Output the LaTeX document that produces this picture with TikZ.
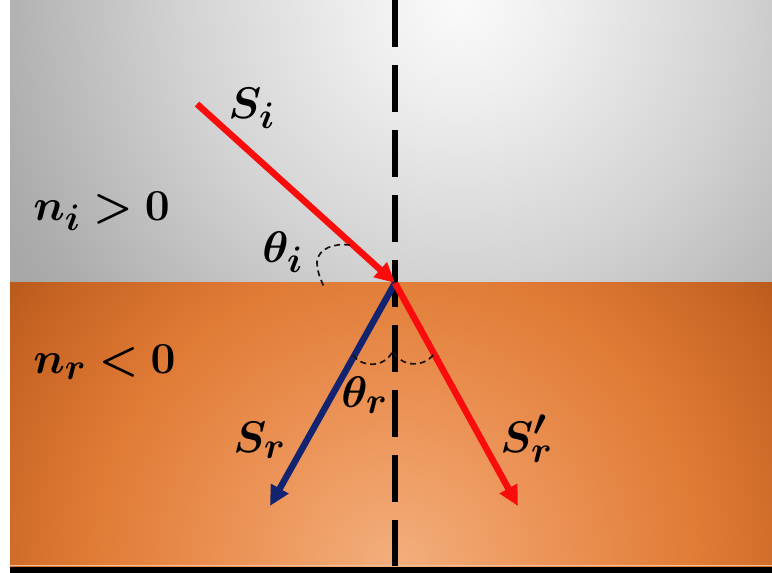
\documentclass[tikz,border=0pt]{standalone}
\usepackage{bm}
\usetikzlibrary{arrows.meta}
\definecolor{g0}{RGB}{250,250,250}
\definecolor{g1}{RGB}{238,238,238}
\definecolor{g2}{RGB}{210,210,210}
\definecolor{g3}{RGB}{172,172,172}
\definecolor{g4}{RGB}{158,158,158}
\definecolor{o0}{RGB}{243,175,125}
\definecolor{o1}{RGB}{236,148,88}
\definecolor{o2}{RGB}{224,124,54}
\definecolor{o3}{RGB}{202,102,36}
\definecolor{o4}{RGB}{172,82,22}
\definecolor{rayred}{RGB}{250,12,12}
\definecolor{rayblue}{RGB}{18,36,112}
\pgfdeclareradialshading{grayrad}{\pgfpoint{0bp}{0bp}}{color(0bp)=(g0); color(4.2bp)=(g1); color(11.7bp)=(g2); color(20bp)=(g3); color(25bp)=(g4); color(50bp)=(g4)}
\pgfdeclareradialshading{orangerad}{\pgfpoint{0bp}{0bp}}{color(0bp)=(o0); color(7.2bp)=(o1); color(14.4bp)=(o2); color(20.2bp)=(o3); color(25bp)=(o4); color(50bp)=(o4)}
\tikzset{
  ray/.style={line width=6.5pt, -{Triangle[length=20pt,width=19pt]}},
  normalline/.style={line width=6pt, dash pattern=on 47pt off 18pt},
  anglearc/.style={line width=1.7pt, dash pattern=on 6pt off 4pt, black!85!brown},
  lbl/.style={anchor=base west, inner sep=0pt, font=\Huge, scale=1.78}
}
\begin{document}
\begin{tikzpicture}[x=1pt,y=-1pt]
\useasboundingbox (0,0) rectangle (772,573);
\fill[white] (0,0) rectangle (772,573);
\begin{scope}
  \clip (10,0) rectangle (772,282);
  \shade[shading=grayrad] (460,0) circle (600pt);
\end{scope}
\begin{scope}
  \clip (10,282) rectangle (772,566);
  \shade[shading=orangerad] (395,567) circle (520pt);
\end{scope}
\fill[black] (10,567) rectangle (772,573);
\draw[line width=1.2pt, o0!80!white] (10,565.5) -- (772,565.5);

% normal
\coordinate (ntop) at (395,0);
\coordinate (nbot) at (395,566);
\draw[normalline] (ntop) -- (nbot);

% rays
\coordinate (P) at (395,283);
\coordinate (A) at (197,104);
\coordinate (B) at (270,506);
\coordinate (C) at (518,506);
\draw[ray, rayred] (A) -- (P);
\draw[ray, rayblue] (P) -- (B);
\draw[ray, rayred] (P) -- (C);

% angle arcs
\draw[anglearc] (350,245) .. controls (335,243) and (318,248) .. (317,262) .. controls (317,272) and (321,280) .. (324,287);
\draw[anglearc] (353,355) .. controls (360,366) and (383,370) .. (393,351) .. controls (403,370) and (428,366) .. (435,352);

% labels
\node[lbl] (si) at (228,118) {$\bm{S_i}$};
\node[lbl] (ni) at (33,220) {$\bm{n_i > 0}$};
\node[lbl] (ti) at (262,262) {$\bm{\theta_i}$};
\node[lbl] (nr) at (33,373) {$\bm{n_r < 0}$};
\node[lbl] (tr) at (341,407) {$\bm{\theta_r}$};
\node[lbl] (sr) at (233,452) {$\bm{S_r}$};
\node[lbl] (spr) at (500,452) {$\bm{S'_r}$};
\end{tikzpicture}
\end{document}
